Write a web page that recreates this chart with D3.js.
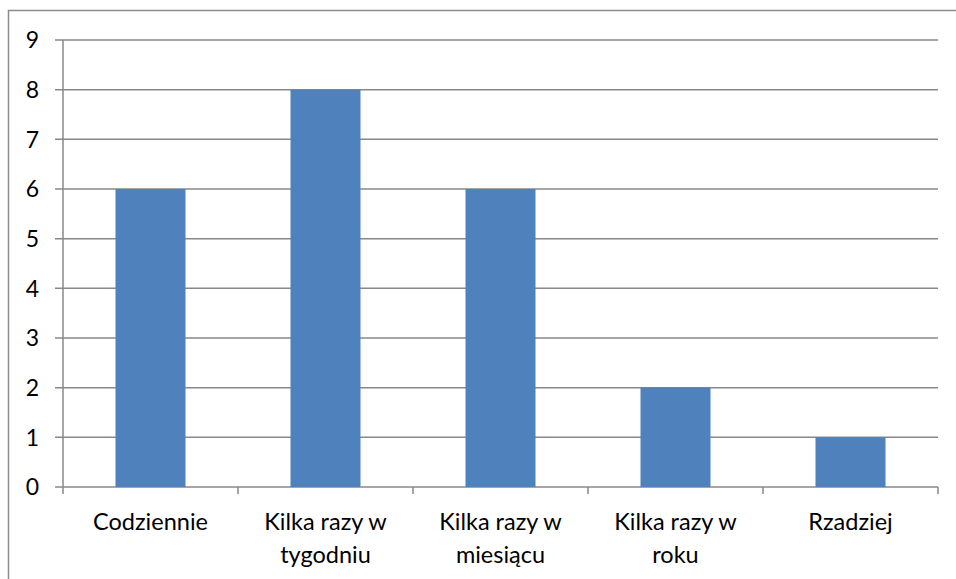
<!DOCTYPE html>
<html><head><meta charset="utf-8">
<script src="https://cdn.jsdelivr.net/npm/d3@7"></script>
<style>body{margin:0;background:#fff}svg{display:block}</style>
</head><body>
<svg id="c" width="956" height="579"></svg>
<script>
const categories = [["Codziennie"], ["Kilka razy w","tygodniu"], ["Kilka razy w","miesiącu"], ["Kilka razy w","roku"], ["Rzadziej"]];
const values = [6, 8, 6, 2, 1];
const yTicks = [0,1,2,3,4,5,6,7,8,9];

const svg = d3.select("#c");
const font = "Lato, 'Open Sans', sans-serif";
const L = 63, R = 938, T = 40, B = 487;
svg.append("rect").attr("x",8.5).attr("y",10.5).attr("width",960).attr("height",600)
  .attr("fill","none").attr("stroke","#8c8c8c").attr("stroke-width",1.5);

const x = d3.scaleBand().domain(d3.range(categories.length)).range([L,R]).paddingInner(0).paddingOuter(0);
const y = d3.scaleLinear().domain([0,9]).range([B,T]);

svg.append("g").selectAll("line").data(yTicks).join("line")
  .attr("x1",L-8).attr("x2",R).attr("y1",d=>y(d)).attr("y2",d=>y(d))
  .attr("stroke","#888").attr("stroke-width",1.5);

const bw = x.bandwidth()*0.4;
svg.append("g").selectAll("rect").data(values).join("rect")
  .attr("x",(d,i)=>x(i)+(x.bandwidth()-bw)/2).attr("width",bw)
  .attr("y",d=>y(d)).attr("height",d=>B-y(d)).attr("fill","#4F81BD");

svg.append("line").attr("x1",L).attr("x2",L).attr("y1",T).attr("y2",B)
  .attr("stroke","#888").attr("stroke-width",1.5);
const bounds = d3.range(categories.length+1).map(i=>L+i*x.bandwidth());
svg.append("g").selectAll("line").data(bounds).join("line")
  .attr("x1",d=>d).attr("x2",d=>d).attr("y1",B).attr("y2",B+7)
  .attr("stroke","#888").attr("stroke-width",1.5);

svg.append("g").selectAll("text").data(yTicks).join("text")
  .attr("x",39).attr("y",d=>y(d)).attr("dy","0.36em").attr("text-anchor","end")
  .attr("font-family",font).attr("font-size",23).attr("fill","#000").text(d=>d);

const xl = svg.append("g").selectAll("text").data(categories).join("text")
  .attr("x",(d,i)=>x(i)+x.bandwidth()/2).attr("y",530).attr("text-anchor","middle")
  .attr("font-family",font).attr("font-size",23.5).attr("fill","#000");
xl.selectAll("tspan").data(d=>d).join("tspan")
  .attr("x",function(){return this.parentNode.getAttribute("x");})
  .attr("dy",(d,i)=>i===0?0:33).text(d=>d);
</script>
</body></html>
